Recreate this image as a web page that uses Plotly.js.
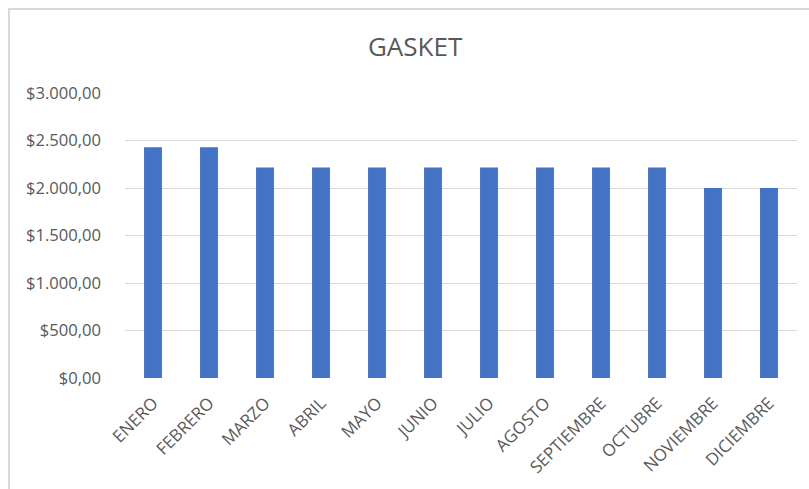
<!DOCTYPE html>
<html>
<head>
<meta charset="utf-8">
<script src="https://cdn.plot.ly/plotly-3.0.1.min.js"></script>
<style>
  html, body { margin: 0; padding: 0; background: #fff; overflow: hidden; }
  #frame {
    position: absolute; left: 8px; top: 8px;
    width: 820px; height: 500px;
    border-left: 2px solid #d9d9d9; border-top: 2px solid #d9d9d9;
  }
  #chart { width: 799px; height: 479px; }
</style>
</head>
<body>
<div id="frame"><div id="chart"></div></div>
<script>
// monthly gasket cost
const months = ["ENERO", "FEBRERO", "MARZO", "ABRIL", "MAYO", "JUNIO",
  "JULIO", "AGOSTO", "SEPTIEMBRE", "OCTUBRE", "NOVIEMBRE", "DICIEMBRE"];
const costs = [2430, 2430, 2215, 2215, 2215, 2215, 2215, 2215, 2215, 2215, 2000, 2000];
const yTicks = [0, 500, 1000, 1500, 2000, 2500, 3000];

const fontFamily = "'Open Sans', 'Liberation Sans', sans-serif";

const traces = [{
  type: "bar",
  x: months,
  y: costs,
  marker: { color: "#4472C4" },
  hoverinfo: "skip"
}];

const layout = {
  width: 799,
  height: 479,
  margin: { l: 115, r: 12, t: 83, b: 111 },
  paper_bgcolor: "#fff",
  plot_bgcolor: "#fff",
  separators: ",.",
  bargap: 0.68,
  showlegend: false,
  font: { family: fontFamily, color: "#595959", size: 16 },
  title: {
    text: "GASKET",
    font: { family: fontFamily, size: 26, color: "#595959" },
    xref: "container", x: 0.507, xanchor: "center",
    yref: "container", y: 0.923, yanchor: "middle"
  },
  xaxis: {
    type: "category",
    tickangle: -45,
    ticks: "",
    showgrid: false,
    showline: false,
    zeroline: false,
    ticklabelstandoff: 11,
    tickfont: { size: 17, color: "#595959" }
  },
  yaxis: {
    range: [0, 3000],
    tickvals: yTicks,
    tickformat: "$,.2f",
    ticks: "",
    showgrid: true,
    gridcolor: "#d9d9d9",
    gridwidth: 1,
    zeroline: false,
    showline: false,
    ticklabelstandoff: 23,
    tickfont: { size: 16.6, color: "#595959" }
  }
};

Plotly.newPlot("chart", traces, layout, { displayModeBar: false, staticPlot: true });
</script>
</body>
</html>
